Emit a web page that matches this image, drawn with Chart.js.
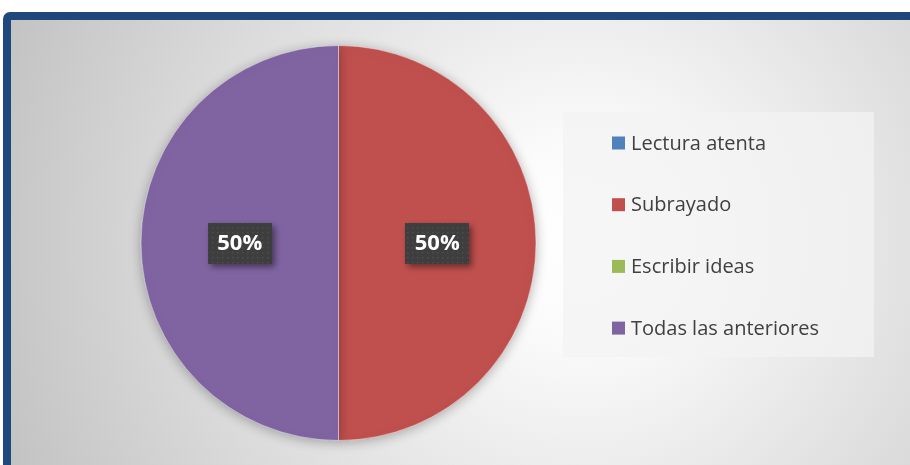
<!DOCTYPE html>
<html>
<head>
<meta charset="utf-8">
<script src="https://cdn.jsdelivr.net/npm/chart.js@4.4.0/dist/chart.umd.min.js"></script>
<style>
  html, body { margin: 0; padding: 0; background: #fff; }
  #wrap { width: 910px; height: 465px; }
</style>
</head>
<body>
<div id="wrap"><canvas id="myChart" width="910" height="465"></canvas></div>
<script>
var categories = ['Lectura atenta', 'Subrayado', 'Escribir ideas', 'Todas las anteriores']
var percentages = [0, 50, 0, 50]
var sliceColors = ['#4f81bd', '#c0504d', '#9bbb59', '#8064a2']

// dotted dark fill used behind the data labels
function makePattern() {
  const c = document.createElement('canvas')
  c.width = 5; c.height = 5
  const p = c.getContext('2d')
  p.fillStyle = '#3e3e3e'
  p.fillRect(0, 0, 5, 5)
  p.fillStyle = '#4d4d4d'
  p.fillRect(2, 2, 1.5, 1.5)
  return p.createPattern(c, 'repeat')
}

const frame = {
  id: 'frame',
  beforeDraw(chart) {
    const ctx = chart.ctx
    ctx.save()
    const g = ctx.createRadialGradient(580, 240, 0, 580, 240, 620)
    g.addColorStop(0, '#ffffff')
    g.addColorStop(0.15, '#fbfbfb')
    g.addColorStop(1, '#c2c2c2')
    ctx.fillStyle = g
    ctx.fillRect(8, 20, 910, 460)
    ctx.strokeStyle = '#1f497d'
    ctx.lineWidth = 8
    ctx.beginPath()
    ctx.roundRect(7, 16, 930, 480, 3)
    ctx.stroke()
    ctx.restore()
  },
  beforeDatasetsDraw(chart) {
    const ctx = chart.ctx
    ctx.save()
    ctx.shadowColor = 'rgba(0,0,0,0.28)'
    ctx.shadowBlur = 12
    ctx.shadowOffsetX = 0
    ctx.shadowOffsetY = 2
  },
  afterDatasetsDraw(chart) {
    const ctx = chart.ctx
    ctx.restore()

    // data labels
    const pattern = makePattern()
    const meta = chart.getDatasetMeta(0)
    meta.data.forEach((arc, i) => {
      const v = chart.data.datasets[0].data[i]
      if (!v) return
      const pos = arc.tooltipPosition()
      const w = 64, h = 41
      const x = Math.round(pos.x - w / 2), y = Math.round(pos.y - h / 2)
      ctx.save()
      ctx.shadowColor = 'rgba(0,0,0,0.45)'
      ctx.shadowBlur = 6
      ctx.shadowOffsetX = 3
      ctx.shadowOffsetY = 3
      ctx.fillStyle = pattern
      ctx.fillRect(x, y, w, h)
      ctx.restore()
      ctx.save()
      ctx.fillStyle = '#ffffff'
      ctx.font = 'bold 22px "Open Sans", sans-serif'
      ctx.textAlign = 'center'
      ctx.textBaseline = 'middle'
      ctx.fillText(v + '%', pos.x, pos.y + 1)
      ctx.restore()
    })

    // legend panel
    ctx.save()
    ctx.fillStyle = 'rgba(243,243,243,0.75)'
    ctx.fillRect(563, 112, 311, 245)
    const labels = chart.data.labels
    const colors = chart.data.datasets[0].backgroundColor
    labels.forEach((lab, i) => {
      const cy = 143 + i * 61.7
      ctx.fillStyle = colors[i]
      ctx.fillRect(612, cy - 6.5, 13, 13)
      ctx.fillStyle = '#404040'
      ctx.font = '20px "Open Sans", sans-serif'
      ctx.textAlign = 'left'
      ctx.textBaseline = 'middle'
      ctx.fillText(lab, 631, cy + 1)
    })
    ctx.restore()
  }
}

const ctx = document.getElementById('myChart').getContext('2d')
const chart = new Chart(ctx, {
  type: 'pie',
  data: {
    labels: categories,
    datasets: [{
      data: percentages,
      backgroundColor: sliceColors,
      borderColor: 'rgba(255,255,255,0.45)',
      borderWidth: 1
    }]
  },
  options: {
    responsive: false,
    animation: false,
    layout: {
      padding: { top: 45, bottom: 24, left: 140, right: 373 }
    },
    plugins: {
      legend: { display: false },
      tooltip: { enabled: false }
    }
  },
  plugins: [frame]
})
</script>
</body>
</html>
